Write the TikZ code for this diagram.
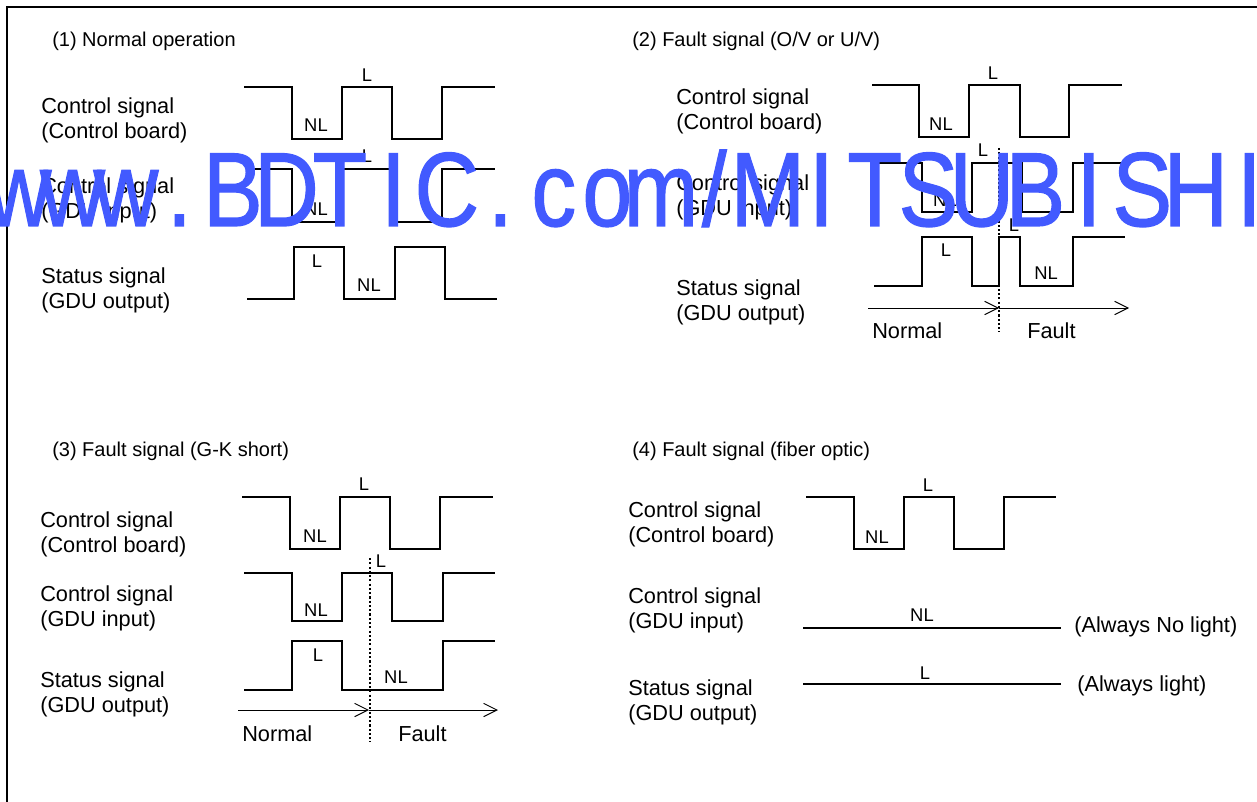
\documentclass[tikz,border=0pt]{standalone}
\usepackage{fontspec}
\setmainfont{Liberation Sans}
\newfontfamily\wmfont[FakeBold=1.2]{Liberation Sans}
\usetikzlibrary{arrows.meta}
\definecolor{wmblue}{RGB}{66,90,255}
\makeatletter
\newcommand{\wmspread}[1]{\@tfor\wmch:=#1\do{\makebox[47.2pt]{\wmch}}}
\makeatother
\tikzset{
  wave/.style={line width=1.9pt},
  frameline/.style={line width=1.8pt},
  route/.style={line width=0.7pt,-{Straight Barb[length=10pt,width=10pt,line width=0.7pt]}},
  split/.style={line width=0.8pt,dash pattern=on 1.6pt off 1.6pt},
  sig/.style={anchor=west,align=left,inner sep=0pt,font=\fontsize{16.3}{18.75}\selectfont},
  ttl/.style={anchor=west,inner sep=0pt,font=\fontsize{15}{17}\selectfont},
  lvl/.style={inner sep=0pt,font=\fontsize{13.8}{16}\selectfont},
}
\begin{document}
\begin{tikzpicture}[x=0.75pt,y=-0.75pt]
\useasboundingbox (0,0) rectangle (1257,802);
\draw[frameline] (7,802) -- (7,7) -- (1257,7);

% (1)
\node[ttl] (titleA) at (52,41) {(1) Normal operation};
\node[sig] (boardA) at (41,120) {Control signal\\(Control board)};
\node[sig] (inputA) at (41,200) {Control signal\\(GDU input)};
\node[sig] (statusA) at (41,290) {Status signal\\(GDU output)};
\draw[wave] (244,87) -- (292,87) -- (292,139) -- (342,139) -- (342,87) -- (392,87) -- (392,139) -- (442,139) -- (442,87) -- (495,87);
\draw[wave] (246,169) -- (292,169) -- (292,222) -- (342,222) -- (342,169) -- (392,169) -- (392,222) -- (442,222) -- (442,169) -- (495,169);
\draw[wave] (247,299) -- (294,299) -- (294,247) -- (344,247) -- (344,299) -- (395,299) -- (395,247) -- (445,247) -- (445,299) -- (497,299);
\node[lvl] (lA) at (367,75) {L};
\node[lvl] (nlA) at (316,125) {NL};
\node[lvl] (lB) at (367,156) {L};
\node[lvl] (nlB) at (316,209) {NL};
\node[lvl] (lC) at (317,261) {L};
\node[lvl] (nlC) at (369,285) {NL};

% (2)
\node[ttl] (titleB) at (632,41) {(2) Fault signal (O/V or U/V)};
\node[sig] (boardB) at (676,111) {Control signal\\(Control board)};
\node[sig] (inputB) at (676,197) {Control signal\\(GDU input)};
\node[sig] (statusB) at (676,302) {Status signal\\(GDU output)};
\draw[wave] (872,85) -- (919,85) -- (919,137) -- (969,137) -- (969,85) -- (1020,85) -- (1020,137) -- (1069,137) -- (1069,85) -- (1122,85);
\draw[wave] (873,163) -- (922,163) -- (922,212) -- (972,212) -- (972,163) -- (1022,163) -- (1022,212) -- (1073,212) -- (1073,163) -- (1124,163);
\draw[wave] (874,286) -- (922,286) -- (922,237) -- (972,237) -- (972,286) -- (999,286) -- (999,237) -- (1020,237) -- (1020,286) -- (1073,286) -- (1073,237) -- (1125,237);
\node[lvl] (lD) at (993,73) {L};
\node[lvl] (nlD) at (941,124) {NL};
\node[lvl] (lE) at (983,150) {L};
\node[lvl] (nlE) at (945,200) {NL};
\node[lvl] (lEb) at (1014,225) {L};
\node[lvl] (lF) at (946,250) {L};
\node[lvl] (nlF) at (1046,273) {NL};
\coordinate (startB) at (868,308);
\coordinate (midB) at (999,308);
\coordinate (endB) at (1129,308);
\coordinate (topB) at (999,148);
\coordinate (botB) at (999,332);
\draw[split] (topB) -- (botB);
\draw[route] (startB) -- (midB);
\draw[route] (midB) -- (endB);
\node[sig] (normalB) at (872,331) {Normal};
\node[sig] (faultB) at (1027,331) {Fault};

% (3)
\node[ttl] (titleC) at (52,451) {(3) Fault signal (G-K short)};
\node[sig] (boardC) at (40,534) {Control signal\\(Control board)};
\node[sig] (inputC) at (40,608) {Control signal\\(GDU input)};
\node[sig] (statusC) at (40,694) {Status signal\\(GDU output)};
\draw[wave] (242,497) -- (290,497) -- (290,549) -- (340,549) -- (340,497) -- (390,497) -- (390,549) -- (440,549) -- (440,497) -- (493,497);
\draw[wave] (244,573) -- (292,573) -- (292,621) -- (342,621) -- (342,573) -- (392,573) -- (392,621) -- (443,621) -- (443,573) -- (495,573);
\draw[wave] (244,690) -- (292,690) -- (292,641) -- (342,641) -- (342,690) -- (443,690) -- (443,641) -- (495,641);
\node[lvl] (lG) at (364,484) {L};
\node[lvl] (nlG) at (315,536) {NL};
\node[lvl] (lH) at (381,561) {L};
\node[lvl] (nlH) at (316,610) {NL};
\node[lvl] (lI) at (318,655) {L};
\node[lvl] (nlI) at (396,677) {NL};
\coordinate (startC) at (238,710);
\coordinate (midC) at (369,710);
\coordinate (endC) at (498,710);
\coordinate (topC) at (370,558);
\coordinate (botC) at (370,742);
\draw[split] (topC) -- (botC);
\draw[route] (startC) -- (midC);
\draw[route] (midC) -- (endC);
\node[sig] (normalC) at (242,734) {Normal};
\node[sig] (faultC) at (398,734) {Fault};

% (4)
\node[ttl] (titleD) at (632,451) {(4) Fault signal (fiber optic)};
\node[sig] (boardD) at (628,524) {Control signal\\(Control board)};
\node[sig] (inputD) at (628,610) {Control signal\\(GDU input)};
\node[sig] (statusD) at (628,702) {Status signal\\(GDU output)};
\draw[wave] (806,497) -- (854,497) -- (854,549) -- (904,549) -- (904,497) -- (954,497) -- (954,549) -- (1004,549) -- (1004,497) -- (1056,497);
\draw[wave] (803,628) -- (1061,628);
\draw[wave] (803,684) -- (1061,684);
\node[lvl] (lJ) at (928,485) {L};
\node[lvl] (nlJ) at (877,537) {NL};
\node[lvl] (nlK) at (922,615) {NL};
\node[lvl] (lL) at (925,673) {L};
\node[sig] (alwaysK) at (1074,627) {(Always No light)};
\node[sig] (alwaysL) at (1077,686) {(Always light)};

% watermark
\node[anchor=base west,inner sep=0pt,xscale=0.85,transform shape,text=wmblue,font=\wmfont\fontsize{79}{80}\selectfont] (wmark) at (-8,226) {\wmspread{www.BDTIC.com/MITSUBISHI}};
\end{tikzpicture}
\end{document}
